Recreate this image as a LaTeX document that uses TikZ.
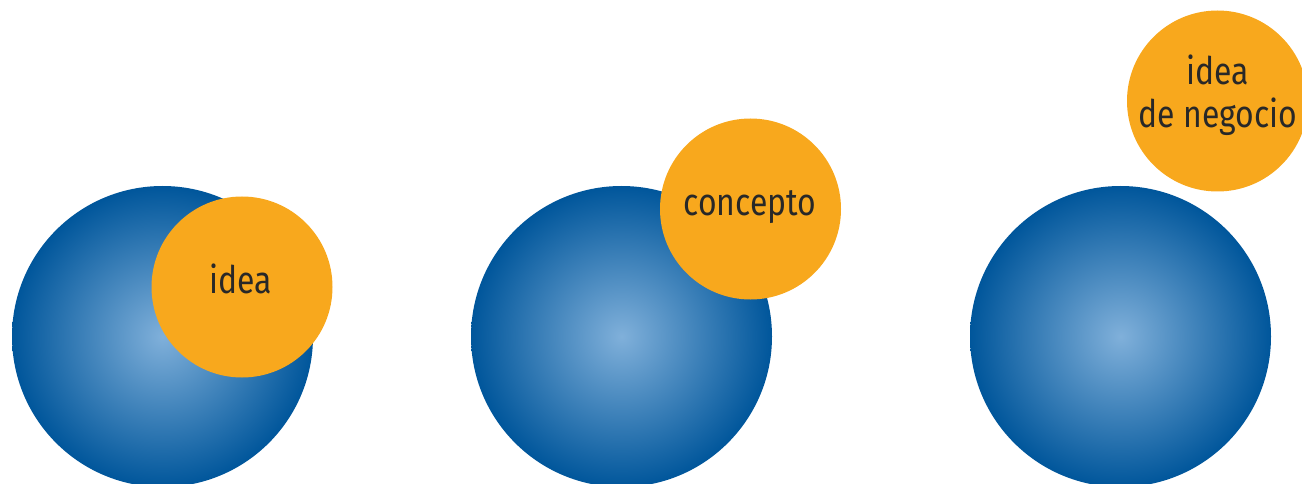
\documentclass[tikz,border=0pt]{standalone}
\usepackage{fontspec}
\setmainfont{Fira Sans}[FakeStretch=0.84]
\definecolor{blueout}{RGB}{0,86,155}
\definecolor{bluein}{RGB}{128,176,218}
\definecolor{orng}{RGB}{248,168,29}
\definecolor{txt}{RGB}{40,40,40}
\begin{document}
\begin{tikzpicture}[x=1pt,y=-1pt,
  ball/.style={circle,inner sep=0pt,minimum size=301pt,shade,shading=radial,inner color=bluein,outer color=blueout},
  bubble/.style={circle,inner sep=0pt,minimum size=181pt,fill=orng},
  lbl/.style={anchor=base,inner sep=0pt,text=txt,font=\fontsize{38}{43}\selectfont}]
\useasboundingbox (0,0) rectangle (1302,484);
\begin{scope}
\clip (0,0) rectangle (1302,484);
\node[ball] (b1) at (162.5,336.5) {};
\node[ball] (b2) at (621.5,336.5) {};
\node[ball] (b3) at (1120.5,336.5) {};
\node[bubble] (o1) at (242,287) {};
\node[bubble] (o2) at (750.5,209) {};
\node[bubble] (o3) at (1217.5,101) {};
\end{scope}
\node[lbl] (t1) at (241,293) {idea};
\node[lbl] (t2) at (750,215) {concepto};
\node[lbl] (t3a) at (1218,85) {idea};
\node[lbl] (t3b) at (1218,128) {de negocio};
\end{tikzpicture}
\end{document}
